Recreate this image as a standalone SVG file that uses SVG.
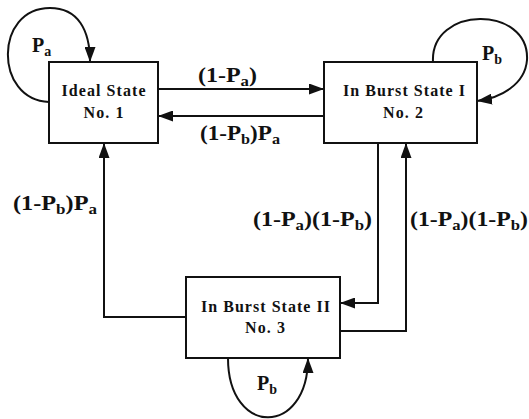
<svg xmlns="http://www.w3.org/2000/svg" width="529" height="419" viewBox="0 0 529 419">
<style>
.box{fill:#fff;stroke:#111;stroke-width:2}
.ln{fill:none;stroke:#111;stroke-width:2}
.nt{font-family:"Liberation Serif","Times New Roman",serif;font-weight:bold;font-size:16px;fill:#111;text-anchor:middle}
.lb{font-family:"Liberation Serif","Times New Roman",serif;font-weight:bold;font-size:20px;fill:#111}
.s{font-size:14px}
</style>
<defs>
<marker id="ah" markerUnits="userSpaceOnUse" markerWidth="15" markerHeight="11" refX="15" refY="5.5" orient="auto">
<path d="M0,0 L15,5.5 L0,11 z" fill="#111"/>
</marker>
</defs>
<rect width="529" height="419" fill="#fff"/>
<g id="connectors">
<path class="ln" d="M158,89 L324,89" marker-end="url(#ah)"/>
<path class="ln" d="M324,116 L158,116" marker-end="url(#ah)"/>
<path class="ln" d="M378,143 L378,303 L340,303" marker-end="url(#ah)"/>
<path class="ln" d="M340,331 L406,331 L406,143" marker-end="url(#ah)"/>
<path class="ln" d="M186,317 L104,317 L104,143" marker-end="url(#ah)"/>
<path class="ln" d="M49,102 C -6,100 -6,8 50,8 C 78,8 90,30 90,62" marker-end="url(#ah)"/>
<path class="ln" d="M433,62 C 430,5 530,5 527,60 C 525,85 500,98 477,101" marker-end="url(#ah)"/>
<path class="ln" d="M228,358 C 228,437 308,437 308,358" marker-end="url(#ah)"/>
<text class="lb" x="198" y="82" textLength="59" lengthAdjust="spacingAndGlyphs">(1-P<tspan class="s" dy="4">a</tspan><tspan dy="-4">)</tspan></text>
<text class="lb" x="200" y="140" textLength="80" lengthAdjust="spacingAndGlyphs">(1-P<tspan class="s" dy="4">b</tspan><tspan dy="-4">)P</tspan><tspan class="s" dy="4">a</tspan></text>
<text class="lb" x="13" y="210" textLength="84" lengthAdjust="spacingAndGlyphs">(1-P<tspan class="s" dy="4">b</tspan><tspan dy="-4">)P</tspan><tspan class="s" dy="4">a</tspan></text>
<text class="lb" x="253" y="226" textLength="119" lengthAdjust="spacingAndGlyphs">(1-P<tspan class="s" dy="4">a</tspan><tspan dy="-4">)(1-P</tspan><tspan class="s" dy="4">b</tspan><tspan dy="-4">)</tspan></text>
<text class="lb" x="410" y="226" textLength="118" lengthAdjust="spacingAndGlyphs">(1-P<tspan class="s" dy="4">a</tspan><tspan dy="-4">)(1-P</tspan><tspan class="s" dy="4">b</tspan><tspan dy="-4">)</tspan></text>
<text class="lb" x="32" y="52">P<tspan class="s" dy="4">a</tspan></text>
<text class="lb" x="482" y="60">P<tspan class="s" dy="4">b</tspan></text>
<text class="lb" x="257" y="390">P<tspan class="s" dy="4">b</tspan></text>
</g>
<g id="node1">
<rect class="box" x="49" y="62" width="109" height="81"/>
<text class="nt" x="103.5" y="96" textLength="84" lengthAdjust="spacing">Ideal State</text>
<text class="nt" x="103.5" y="118" textLength="40" lengthAdjust="spacing">No. 1</text>
</g>
<g id="node2">
<rect class="box" x="324" y="62" width="153" height="81"/>
<text class="nt" x="404" y="96" textLength="122" lengthAdjust="spacing">In Burst State I</text>
<text class="nt" x="403" y="118" textLength="40" lengthAdjust="spacing">No. 2</text>
</g>
<g id="node3">
<rect class="box" x="186" y="277" width="154" height="81"/>
<text class="nt" x="265.5" y="312" textLength="129" lengthAdjust="spacing">In Burst State II</text>
<text class="nt" x="265" y="333" textLength="40" lengthAdjust="spacing">No. 3</text>
</g>
</svg>
